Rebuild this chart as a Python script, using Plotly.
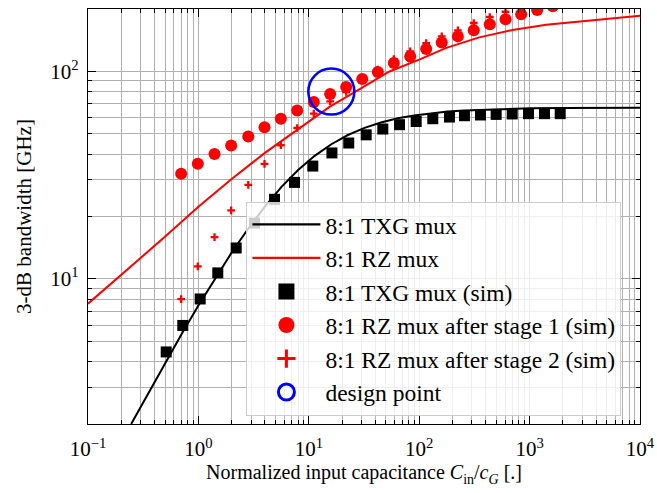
import plotly.graph_objects as go

# ---- data ----
txg_line_x = [0.246, 0.35, 0.5, 0.707, 1, 1.41, 2, 2.83, 4, 5.66, 8, 11.3, 16, 22.6, 32, 45, 64, 90,
              128, 181, 256, 512, 1024, 2048, 4096, 10000]
txg_line_y = [2.0, 2.81, 3.94, 5.44, 7.45, 10.0, 13.4, 17.5, 22.3, 27.8, 33.5, 39.2, 44.6, 49.4, 53.5,
              56.8, 59.5, 61.4, 63.0, 64.1, 64.9, 65.9, 66.4, 66.7, 66.8, 66.9]

rz_line_x = [0.1, 0.229, 0.5, 1, 2, 4, 8, 15.4, 23.4, 53.8, 100, 176, 350, 700, 1414, 2831, 10000]
rz_line_y = [7.6, 11.1, 16.0, 22.3, 30.3, 40.5, 52.5, 67.5, 77, 100, 114, 130, 146, 158.5, 168, 174.5, 185.6]

txg_sim_x = [0.511, 0.722, 1.038, 1.498, 2.20, 3.22, 4.89, 7.42, 10.87, 16.2, 23.0, 33.1, 46.8, 66.3,
             93.9, 132.8, 188, 257, 359, 498, 696, 977, 1365, 1893]
txg_sim_y = [4.45, 5.97, 8.01, 10.7, 14.1, 18.6, 24.2, 29.2, 35.0, 40.5, 45.2, 49.5, 52.8, 55.4,
             57.4, 59.2, 60.3, 61.2, 61.7, 62.1, 62.4, 62.6, 62.6, 62.6]

rz_x = [0.698, 0.988, 1.40, 1.98, 2.83, 3.97, 5.58, 7.85, 11.1, 15.6, 21.8, 30.5, 42.2, 58.9,
        82.9, 115.7, 160, 224, 312, 436, 605, 839, 1172, 1623]
rz_stage1_y = [32.1, 35.9, 40.0, 44.0, 48.6, 53.8, 59.1, 64.8, 71.2, 77.9, 84.2, 92.0, 99.4, 109.8,
               118.2, 128.3, 138, 147.6, 158, 168.9, 178.6, 188.7, 197.8, 206.3]
rz_stage2_y = [8.0, 11.5, 15.9, 21.4, 28.4, 35.9, 44.1, 53.4, 62.6, 71.7, 79.6, 91.3, 102, 114.6,
               125, 137.1, 147.6, 157.7, 171.2, 183, 194, 207, 213, 223]

design_x = [16]
design_y = [80]

x_tickvals = [0.1, 1, 10, 100, 1000, 10000]
x_ticktext = ["10<sup>\u22121</sup>", "10<sup>0</sup>", "10<sup>1</sup>", "10<sup>2</sup>",
              "10<sup>3</sup>", "10<sup>4</sup>"]
y_tickvals = [10, 100]
y_ticktext = ["10<sup>1</sup>", "10<sup>2</sup>"]

labels = ["8:1 TXG mux", "8:1 RZ mux", "8:1 TXG mux (sim)", "8:1 RZ mux after stage 1 (sim)",
          "8:1 RZ mux after stage 2 (sim)", "design point"]

x_minor = [m * 10 ** e for e in range(-1, 4) for m in range(2, 10)]
y_minor = [m * 10 ** e for e in range(0, 3) for m in range(2, 10) if m * 10 ** e <= 200]

FONT = "Liberation Serif"
RED = "#ff0000"
BLUE = "#0000ff"

fig = go.Figure()

# actual data traces (no legend)
fig.add_trace(go.Scatter(x=txg_line_x, y=txg_line_y, mode="lines",
                         line=dict(color="black", width=2), showlegend=False))
fig.add_trace(go.Scatter(x=rz_line_x, y=rz_line_y, mode="lines",
                         line=dict(color=RED, width=2), showlegend=False))
fig.add_trace(go.Scatter(x=txg_sim_x, y=txg_sim_y, mode="markers",
                         marker=dict(symbol="square", size=11, color="black"), showlegend=False))
fig.add_trace(go.Scatter(x=rz_x, y=rz_stage1_y, mode="markers",
                         marker=dict(symbol="circle", size=12, color=RED), showlegend=False))
fig.add_trace(go.Scatter(x=rz_x, y=rz_stage2_y, mode="markers",
                         marker=dict(symbol="cross-thin", size=5.5, color=RED,
                                     line=dict(color=RED, width=2.3)), showlegend=False))
fig.add_trace(go.Scatter(x=design_x, y=design_y, mode="markers",
                         marker=dict(symbol="circle-open", size=46, color=BLUE,
                                     line=dict(color=BLUE, width=2.6)), showlegend=False))

# legend entries (larger symbols, like markerscale in the reference)
legend_styles = [
    dict(mode="lines", line=dict(color="black", width=2.2)),
    dict(mode="lines", line=dict(color=RED, width=2.2)),
    dict(mode="markers", marker=dict(symbol="square", size=20, color="black")),
    dict(mode="markers", marker=dict(symbol="circle", size=20, color=RED)),
    dict(mode="markers", marker=dict(symbol="cross-thin", size=13, color=RED,
                                     line=dict(color=RED, width=3))),
    dict(mode="markers", marker=dict(symbol="circle-open", size=18, color=BLUE,
                                     line=dict(color=BLUE, width=3))),
]
for i, (lab, st) in enumerate(zip(labels, legend_styles)):
    fig.add_trace(go.Scatter(x=[None], y=[None], name=lab, legendgroup=f"g{i}",
                             showlegend=True, **st))

axis_common = dict(
    type="log",
    showline=True, linecolor="black", linewidth=1.3, mirror="allticks",
    ticks="inside", ticklen=8, tickwidth=1.3, tickcolor="black",
    showgrid=True, gridcolor="#b0b0b0", gridwidth=1,
    tickfont=dict(family=FONT, size=21, color="black"),
    zeroline=False,
)

fig.update_xaxes(
    **axis_common,
    range=[-1, 4],
    tickmode="array", tickvals=x_tickvals, ticktext=x_ticktext,
    minor=dict(tickmode="array", tickvals=x_minor, ticks="inside", ticklen=4, tickwidth=1.1,
               tickcolor="black", showgrid=True, gridcolor="#b0b0b0", gridwidth=1),
    title=dict(text="Normalized input capacitance <i>C</i><sub>in</sub>/<i>c</i><sub><i>G</i></sub> [.]",
               font=dict(family=FONT, size=20, color="black"), standoff=2),
    ticklabelstandoff=6,
)
fig.update_yaxes(
    **axis_common,
    range=[0.30103, 2.30103],
    tickmode="array", tickvals=y_tickvals, ticktext=y_ticktext,
    minor=dict(tickmode="array", tickvals=y_minor, ticks="inside", ticklen=4, tickwidth=1.1,
               tickcolor="black", showgrid=True, gridcolor="#b0b0b0", gridwidth=1),
    title=dict(text="3-dB bandwidth [GHz]",
               font=dict(family=FONT, size=21, color="black"), standoff=12),
    ticklabelstandoff=4,
)

fig.update_layout(
    width=657, height=493,
    margin=dict(l=88, r=17, t=9, b=69, autoexpand=False),
    plot_bgcolor="white", paper_bgcolor="white",
    font=dict(family=FONT, size=21, color="black"),
    legend=dict(x=0.287, y=0.536, xanchor="left", yanchor="top",
                bgcolor="rgba(255,255,255,0.8)", bordercolor="#cccccc", borderwidth=1,
                font=dict(family=FONT, size=23.5, color="black"),
                tracegroupgap=0, traceorder="grouped", itemwidth=68,
                entrywidth=308, entrywidthmode="pixels"),
)

fig.write_html("out.html")
